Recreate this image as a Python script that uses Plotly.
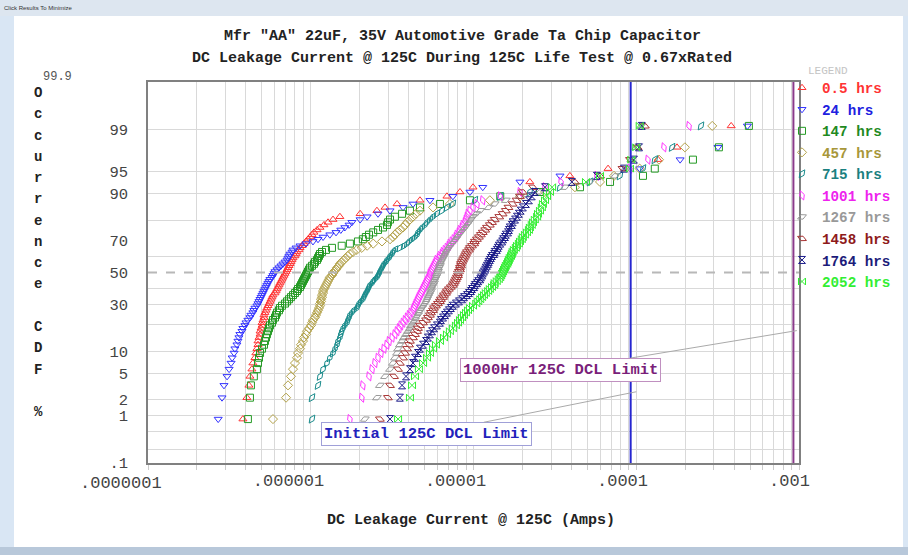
import math
from statistics import NormalDist
import plotly.graph_objects as go

# ---------------- data (DC leakage current, microamps, sorted per test time) ----------------
series_labels = ["0.5 hrs", "24 hrs", "147 hrs", "457 hrs", "715 hrs",
                 "1001 hrs", "1267 hrs", "1458 hrs", "1764 hrs", "2052 hrs"]

dcl_0p5h_uA = [0.383, 0.405, 0.417, 0.423, 0.435, 0.441, 0.454, 0.460, 0.467, 0.474,
               0.474, 0.481, 0.488, 0.488, 0.495, 0.502, 0.502, 0.509, 0.516, 0.516,
               0.523, 0.531, 0.538, 0.546, 0.554, 0.562, 0.570, 0.578, 0.586, 0.603,
               0.612, 0.620, 0.629, 0.638, 0.647, 0.656, 0.666, 0.675, 0.685, 0.695,
               0.705, 0.715, 0.725, 0.735, 0.746, 0.756, 0.767, 0.778, 0.800, 0.812,
               0.823, 0.847, 0.859, 0.884, 0.909, 0.935, 0.962, 0.990, 1.018, 1.047,
               1.093, 1.14, 1.206, 1.277, 1.37, 1.51, 2.01, 2.55, 2.86, 3.39,
               4.69, 6.87, 8.26, 9.93, 22.2, 39.1, 67.1, 136, 178, 383]

dcl_24h_uA = [0.270, 0.285, 0.293, 0.306, 0.315, 0.324, 0.329, 0.338, 0.342, 0.352,
              0.357, 0.362, 0.367, 0.378, 0.383, 0.394, 0.400, 0.411, 0.423, 0.429,
              0.441, 0.447, 0.454, 0.467, 0.474, 0.481, 0.488, 0.495, 0.502, 0.509,
              0.516, 0.523, 0.531, 0.538, 0.546, 0.554, 0.562, 0.578, 0.586, 0.595,
              0.603, 0.620, 0.638, 0.656, 0.675, 0.695, 0.715, 0.725, 0.735, 0.746,
              0.767, 0.778, 0.812, 0.859, 0.935, 1.032, 1.108, 1.19, 1.31, 1.43,
              1.53, 1.62, 1.72, 1.79, 2.01, 2.22, 2.59, 3.07, 3.69, 4.25,
              5.40, 7.47, 9.51, 11.4, 19.3, 34.0, 105, 186, 318, 482]

dcl_147h_uA = [0.411, 0.423, 0.429, 0.447, 0.467, 0.474, 0.481, 0.488, 0.502, 0.516,
               0.523, 0.531, 0.538, 0.546, 0.554, 0.562, 0.578, 0.586, 0.603, 0.612,
               0.620, 0.638, 0.647, 0.666, 0.695, 0.715, 0.735, 0.756, 0.778, 0.800,
               0.823, 0.835, 0.859, 0.871, 0.884, 0.896, 0.909, 0.922, 0.935, 0.948,
               0.962, 0.976, 0.990, 1.018, 1.047, 1.062, 1.093, 1.108, 1.124, 1.14,
               1.173, 1.241, 1.35, 1.55, 1.74, 1.95, 2.09, 2.18, 2.28, 2.42,
               2.59, 2.78, 2.94, 2.98, 3.07, 3.29, 3.64, 4.07, 4.69, 6.22,
               9.51, 14.6, 25.6, 45.1, 69.0, 110, 130, 223, 322, 492]

dcl_457h_uA = [0.586, 0.705, 0.725, 0.756, 0.778, 0.800, 0.823, 0.835, 0.859, 0.871,
               0.896, 0.909, 0.935, 0.948, 0.976, 1.004, 1.018, 1.032, 1.062, 1.077,
               1.093, 1.108, 1.124, 1.14, 1.14, 1.156, 1.156, 1.173, 1.173, 1.19,
               1.19, 1.206, 1.223, 1.241, 1.259, 1.277, 1.295, 1.31, 1.35, 1.37,
               1.39, 1.43, 1.45, 1.49, 1.51, 1.55, 1.60, 1.64, 1.69, 1.74,
               1.82, 1.92, 2.06, 2.22, 2.42, 2.74, 3.07, 3.20, 3.29, 3.39,
               3.53, 3.69, 3.80, 3.91, 4.07, 4.25, 4.43, 4.69, 5.64, 7.16,
               12.6, 19.3, 27.5, 42.0, 59.9, 73.0, 105, 138, 199, 293]

dcl_715h_uA = [1.018, 1.018, 1.108, 1.14, 1.19, 1.259, 1.31, 1.37, 1.41, 1.45,
               1.47, 1.51, 1.53, 1.55, 1.58, 1.62, 1.67, 1.69, 1.72, 1.74,
               1.79, 1.84, 1.92, 1.95, 1.98, 2.03, 2.09, 2.12, 2.15, 2.18,
               2.22, 2.25, 2.28, 2.31, 2.38, 2.42, 2.48, 2.55, 2.59, 2.63,
               2.66, 2.70, 2.74, 2.78, 2.82, 2.90, 2.94, 3.03, 3.07, 3.16,
               3.20, 3.29, 3.53, 3.74, 3.91, 4.02, 4.19, 4.37, 4.50, 4.56,
               4.69, 4.83, 5.04, 5.18, 5.40, 5.64, 5.96, 6.40, 6.87, 7.47,
               10.2, 14.6, 22.2, 34.0, 52.0, 79.4, 110, 130, 166, 250]

dcl_1001h_uA = [1.74, 2.06, 2.09, 2.28, 2.38, 2.48, 2.59, 2.70, 2.82, 2.94,
                3.03, 3.16, 3.29, 3.39, 3.49, 3.58, 3.69, 3.80, 3.91, 4.02,
                4.13, 4.25, 4.31, 4.37, 4.43, 4.50, 4.56, 4.62, 4.69, 4.76,
                4.83, 4.90, 4.97, 5.04, 5.11, 5.18, 5.25, 5.33, 5.40, 5.40,
                5.48, 5.56, 5.64, 5.72, 5.80, 5.88, 5.96, 6.14, 6.22, 6.40,
                6.50, 6.68, 6.87, 7.06, 7.16, 7.37, 7.58, 7.80, 7.91, 8.14,
                8.26, 8.50, 8.62, 8.87, 8.99, 9.12, 9.25, 9.51, 9.93, 10.5,
                11.4, 14.6, 19.3, 27.5, 34.5, 57.3, 91.5, 118, 148, 211]

dcl_1267h_uA = [2.15, 2.55, 2.66, 2.86, 3.07, 3.20, 3.29, 3.39, 3.44, 3.53,
                3.64, 3.74, 3.85, 3.96, 4.07, 4.13, 4.25, 4.37, 4.43, 4.56,
                4.62, 4.69, 4.83, 4.90, 5.04, 5.11, 5.18, 5.25, 5.33, 5.40,
                5.48, 5.48, 5.56, 5.64, 5.72, 5.72, 5.80, 5.88, 5.96, 5.96,
                6.05, 6.05, 6.14, 6.22, 6.22, 6.31, 6.40, 6.50, 6.59, 6.68,
                6.78, 6.87, 7.06, 7.16, 7.37, 7.58, 7.80, 7.91, 8.14, 8.38,
                8.62, 8.87, 9.12, 9.38, 9.65, 9.93, 10.4, 11.0, 12.4, 13.5,
                15.8, 19.3, 25.6, 36.5, 52.0, 74.1, 85.3, 93.2, 100, 107]

dcl_1458h_uA = [2.66, 2.98, 3.07, 3.25, 3.44, 3.53, 3.69, 3.80, 3.91, 4.02,
                4.07, 4.25, 4.37, 4.50, 4.56, 4.69, 4.90, 5.11, 5.25, 5.40,
                5.48, 5.64, 5.72, 5.88, 6.05, 6.22, 6.31, 6.50, 6.59, 6.78,
                6.87, 7.06, 7.26, 7.47, 7.58, 7.69, 7.80, 7.91, 8.03, 8.03,
                8.14, 8.26, 8.26, 8.38, 8.38, 8.50, 8.62, 8.74, 8.87, 8.99,
                9.12, 9.38, 9.51, 9.79, 10.1, 10.2, 10.5, 10.8, 11.1, 11.4,
                11.8, 12.1, 12.6, 13.0, 13.5, 14.4, 15.1, 15.8, 16.4, 17.4,
                18.4, 19.3, 20.1, 23.2, 42.0, 59.9, 82.3, 91.5, 102, 113]

dcl_1764h_uA = [3.07, 3.53, 3.64, 3.85, 4.07, 4.25, 4.37, 4.56, 4.69, 4.90,
                5.11, 5.25, 5.40, 5.56, 5.72, 5.96, 6.22, 6.31, 6.50, 6.68,
                6.87, 7.06, 7.26, 7.47, 7.80, 8.14, 8.50, 8.74, 9.12, 9.38,
                9.65, 9.79, 10.1, 10.2, 10.5, 10.7, 11.0, 11.1, 11.3, 11.4,
                11.6, 11.8, 11.9, 12.1, 12.3, 12.4, 12.6, 12.8, 13.0, 13.4,
                13.5, 13.9, 14.1, 14.3, 14.6, 15.0, 15.2, 15.6, 15.8, 16.3,
                16.5, 16.7, 17.2, 17.4, 18.0, 18.5, 19.0, 19.5, 20.1, 21.0,
                21.9, 22.8, 23.8, 27.5, 40.2, 57.3, 84.1, 96.8, 104, 108]

dcl_2052h_uA = [3.44, 4.07, 4.19, 4.37, 4.62, 4.90, 5.18, 5.40, 5.64, 5.88,
                6.22, 6.59, 6.87, 7.16, 7.47, 7.80, 8.03, 8.26, 8.50, 8.74,
                8.99, 9.25, 9.51, 9.93, 10.4, 10.7, 11.0, 11.3, 11.6, 11.9,
                12.3, 12.6, 13.0, 13.4, 13.5, 13.9, 14.3, 14.6, 14.8, 15.0,
                15.2, 15.4, 15.6, 15.8, 16.1, 16.3, 16.5, 16.7, 17.0, 17.2,
                17.4, 17.7, 18.2, 18.5, 19.0, 19.3, 19.8, 20.1, 20.7, 21.3,
                21.9, 22.2, 22.8, 23.2, 23.8, 24.6, 24.9, 25.6, 26.3, 26.7,
                27.5, 28.3, 29.5, 30.4, 49.1, 59.9, 91.5, 93.2, 100, 105]

INITIAL_LIMIT_A = 9.24e-5      # Initial 125C DCL limit
LIMIT_1000H_A = 9.24e-4        # 1000Hr 125C DCL limit

prob_tick_pct = [0.1, 1, 2, 5, 10, 30, 50, 70, 90, 95, 99]
prob_tick_text = [".1", "1", "2", "5", "10", "30", "50", "70", "90", "95", "99"]
prob_grid_pct = [0.2, 0.5, 1, 2, 5, 10, 20, 30, 40, 60, 80, 90, 95, 99]
x_tick_vals = [1e-7, 1e-6, 1e-5, 1e-4, 1e-3]
x_tick_text = [".0000001", ".000001", ".00001", ".0001", ".001"]

# ---------------- styling ----------------
colors = ["#ff3333", "#3333ff", "#249a24", "#b3a24a", "#1a8c8c",
          "#ff33ff", "#9a9a9a", "#a83434", "#1c1c8a", "#33ee33"]
legend_colors = ["#ff3333", "#2020e0", "#1f8a1f", "#a8973a", "#1a8080",
                 "#ee22ee", "#999999", "#8e1a1a", "#1c1c7a", "#33ee33"]
symbols = ["triangle-up-open", "triangle-down-open", "square-open", "diamond-open",
           "diamond-tall-open", "diamond-tall-open", "diamond-wide-open",
           "diamond-wide-open", "hourglass-open", "bowtie-open"]
angles = [0, 0, 0, 0, 35, -20, -25, 25, 0, 0]

FONT = "Liberation Mono"
W, H = 908, 555
ML, MR, MT, MB = 148, 109, 82, 92
PW, PH = W - ML - MR, H - MT - MB

nd = NormalDist()


def z_of(pct):
    return nd.inv_cdf(pct / 100.0)


def px_x(px):
    return (px - ML) / PW


def px_y(py):
    return (H - MB - py) / PH


all_series = [dcl_0p5h_uA, dcl_24h_uA, dcl_147h_uA, dcl_457h_uA, dcl_715h_uA,
              dcl_1001h_uA, dcl_1267h_uA, dcl_1458h_uA, dcl_1764h_uA, dcl_2052h_uA]

Z_MIN, Z_MAX = z_of(0.1), z_of(99.9)

# label axis: decade labels sit on their own evenly spaced scale (167 px per decade)
LABEL_AX_RANGE = [-6.8413, -2.9431]

fig = go.Figure()
for lab, vals, col, lcol, sym, ang in zip(series_labels, all_series, colors,
                                          legend_colors, symbols, angles):
    n = len(vals)
    xs = [v * 1e-6 for v in sorted(vals)]
    ys = [z_of((i - 0.3) / (n + 0.4) * 100.0) for i in range(1, n + 1)]
    fig.add_trace(go.Scatter(
        x=xs, y=ys, mode="markers",
        name=f"<b><span style='color:{lcol}'>{lab}</span></b>",
        marker=dict(symbol=sym, size=7, angle=ang, color=col, line=dict(width=1, color=col)),
        hoverinfo="x+name",
    ))

# median reference line (50%)
fig.add_trace(go.Scatter(x=[1e-7, 1e-3], y=[z_of(50), z_of(50)], mode="lines",
                         line=dict(color="#b8b8b8", width=2, dash="dash"),
                         showlegend=False, hoverinfo="skip"))
# limit lines
fig.add_trace(go.Scatter(x=[INITIAL_LIMIT_A, INITIAL_LIMIT_A], y=[Z_MIN, Z_MAX], mode="lines",
                         line=dict(color="#2626d0", width=2), showlegend=False, hoverinfo="skip"))
fig.add_trace(go.Scatter(x=[LIMIT_1000H_A, LIMIT_1000H_A], y=[Z_MIN, Z_MAX], mode="lines",
                         line=dict(color="#8a3a8a", width=2), showlegend=False, hoverinfo="skip"))
# carrier for the label axes
fig.add_trace(go.Scatter(x=[1e-5], y=[0], xaxis="x2", yaxis="y2", mode="markers",
                         marker=dict(opacity=0), showlegend=False, hoverinfo="skip"))

grid_x = []
for d in range(-7, -3):
    for k in range(1, 10):
        grid_x.append(k * 10 ** d)
grid_x.append(1e-3)

fig.update_layout(
    width=W, height=H,
    margin=dict(l=ML, r=MR, t=MT, b=MB),
    paper_bgcolor="white", plot_bgcolor="white",
    font=dict(family=FONT, color="#333"),
    xaxis=dict(type="log", range=[-7, -3], tickvals=grid_x, showticklabels=False,
               ticks="outside", ticklen=5, tickcolor="#cccccc",
               showgrid=True, gridcolor="#d9d9d9", gridwidth=1, zeroline=False,
               showline=True, mirror=True, linecolor="#808080", linewidth=1.5),
    yaxis=dict(range=[Z_MIN, Z_MAX], tickvals=[z_of(p) for p in prob_grid_pct],
               showticklabels=False, ticks="", showgrid=True, gridcolor="#d9d9d9",
               zeroline=False, showline=True, mirror=True, linecolor="#808080", linewidth=1.5),
    xaxis2=dict(type="log", overlaying="x", anchor="y2", side="bottom",
                range=LABEL_AX_RANGE, tickvals=x_tick_vals[1:], ticktext=x_tick_text[1:],
                showgrid=False, zeroline=False, ticks="", showline=False,
                tickfont=dict(family=FONT, size=17, color="#444"), ticklabelstandoff=5),
    yaxis2=dict(overlaying="y", anchor="x2", side="left", range=[Z_MIN, Z_MAX],
                tickvals=[z_of(p) for p in prob_tick_pct], ticktext=prob_tick_text,
                showgrid=False, zeroline=False, ticks="", showline=False,
                tickfont=dict(family=FONT, size=15.5, color="#444"), ticklabelstandoff=19),
    legend=dict(x=px_x(782), y=px_y(72), xanchor="left", yanchor="top",
                bgcolor="rgba(0,0,0,0)", borderwidth=0, itemsizing="trace",
                font=dict(family=FONT, size=14.25, color="#333"), tracegroupgap=0),
    showlegend=True,
)

ann = []
# first decade label lies left of the plot edge on the label scale
lab_px0 = ML + (math.log10(x_tick_vals[0]) - LABEL_AX_RANGE[0]) / (LABEL_AX_RANGE[1] - LABEL_AX_RANGE[0]) * PW
ann.append(dict(text=x_tick_text[0], x=px_x(lab_px0), y=px_y(483), xref="paper", yref="paper",
                showarrow=False, xanchor="center", yanchor="middle",
                font=dict(family=FONT, size=17, color="#444")))
# titles
ann.append(dict(text='<b>Mfr "AA" 22uF, 35V Automotive Grade Ta Chip Capacitor</b>',
                x=px_x(462), y=px_y(37), xref="paper", yref="paper", showarrow=False,
                xanchor="center", yanchor="middle", font=dict(family=FONT, size=15, color="#222")))
ann.append(dict(text="<b>DC Leakage Current @ 125C During 125C Life Test @ 0.67xRated</b>",
                x=px_x(461.5), y=px_y(59), xref="paper", yref="paper", showarrow=False,
                xanchor="center", yanchor="middle", font=dict(family=FONT, size=15, color="#222")))
ann.append(dict(text="<b>DC Leakage Current @ 125C (Amps)</b>",
                x=px_x(471), y=px_y(520), xref="paper", yref="paper", showarrow=False,
                xanchor="center", yanchor="middle", font=dict(family=FONT, size=15, color="#222")))
# vertical y-axis title
for i, ch in enumerate("Occurrence CDF %"):
    if ch != " ":
        ann.append(dict(text=f"<b>{ch}</b>", x=px_x(38), y=px_y(93 + i * 21.27),
                        xref="paper", yref="paper", showarrow=False,
                        xanchor="center", yanchor="middle",
                        font=dict(family=FONT, size=14, color="#222")))
ann.append(dict(text="99.9", x=px_x(57), y=px_y(77), xref="paper", yref="paper",
                showarrow=False, xanchor="center", yanchor="middle",
                font=dict(family=FONT, size=12, color="#555")))
ann.append(dict(text="LEGEND", x=px_x(806), y=px_y(71), xref="paper", yref="paper",
                showarrow=False, xanchor="left", yanchor="middle",
                font=dict(family=FONT, size=11, color="#c4c4c4")))
ann.append(dict(text="Click Results To Minimize", x=px_x(2), y=px_y(8), xref="paper", yref="paper",
                showarrow=False, xanchor="left", yanchor="middle",
                font=dict(family="Liberation Sans", size=6, color="#333")))
# limit callouts
ann.append(dict(text="<b>Initial 125C DCL Limit</b>", x=math.log10(1.0e-4), y=z_of(2.65),
                xref="x", yref="y", showarrow=True, arrowhead=0, arrowwidth=1,
                arrowcolor="#aaaaaa", ax=-210, ay=42, bgcolor="white",
                bordercolor="#a0a0d8", borderwidth=1, borderpad=2,
                font=dict(family=FONT, size=15.5, color="#2222bb")))
ann.append(dict(text="<b>1000Hr 125C DCL Limit</b>", x=math.log10(9.7e-4), y=z_of(17.3),
                xref="x", yref="y", showarrow=True, arrowhead=0, arrowwidth=1,
                arrowcolor="#aaaaaa", ax=-236, ay=39, bgcolor="white",
                bordercolor="#c090c0", borderwidth=1, borderpad=2,
                font=dict(family=FONT, size=15.5, color="#7a1f7a")))
fig.update_layout(annotations=ann)

# window frame decoration
frame = [
    dict(type="rect", xref="paper", yref="paper", x0=px_x(0), x1=px_x(14), y0=px_y(555), y1=px_y(0),
         fillcolor="#d9e6f4", line=dict(width=0), layer="below"),
    dict(type="rect", xref="paper", yref="paper", x0=px_x(903), x1=px_x(908), y0=px_y(555), y1=px_y(0),
         fillcolor="#d9e6f4", line=dict(width=0), layer="below"),
    dict(type="rect", xref="paper", yref="paper", x0=px_x(0), x1=px_x(908), y0=px_y(16), y1=px_y(0),
         fillcolor="#dde6f0", line=dict(width=0), layer="below"),
    dict(type="rect", xref="paper", yref="paper", x0=px_x(0), x1=px_x(908), y0=px_y(555), y1=px_y(547),
         fillcolor="#b8c8da", line=dict(width=0), layer="below"),
]
fig.update_layout(shapes=frame)

fig.write_html("out.html", config={"displayModeBar": False})
